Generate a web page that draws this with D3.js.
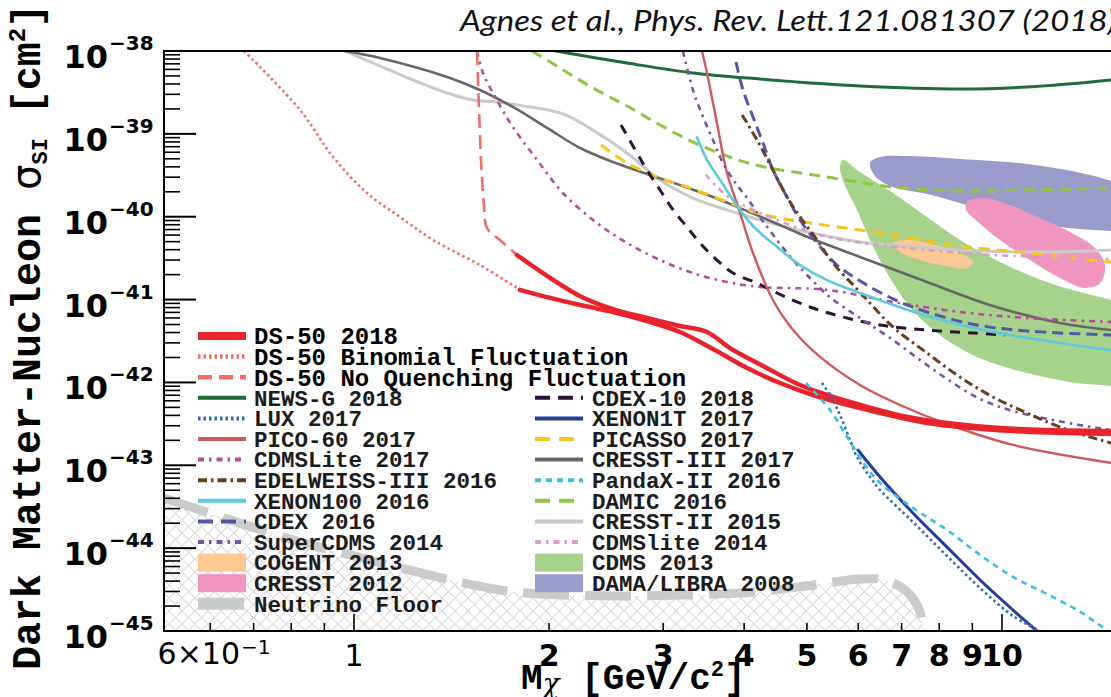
<!DOCTYPE html>
<html>
<head>
<meta charset="utf-8">
<script src="https://cdn.jsdelivr.net/npm/d3@7"></script>
<style>
  html, body { margin: 0; padding: 0; background: #fff; }
  svg { display: block; }
</style>
</head>
<body>
<svg id="chart" width="1111" height="697"></svg>
<script>
// Spin-independent WIMP-nucleon exclusion limits.
// Every point is [mass in GeV/c^2, cross section in cm^2].

const ds50Upper = [[1.7839,3.45e-41],[1.9859,1.93e-41],[2.2335,1.10e-41],[2.5100,7.69e-42],[2.8314,6.0e-42],[3.1841,4.80e-42],[3.5059,4.06e-42],[3.8030,2.60e-42],[4.2780,1.58e-42],[4.8790,9.31e-43],[5.8265,5.81e-43],[7.2864,3.72e-43],[9.9289,2.82e-43],[14.731,2.59e-43],[20,2.52e-43]];
const ds50Lower = [[1.8033,1.31e-41],[1.9859,1.07e-41],[2.2335,8.6e-42],[2.5100,7.08e-42],[2.8314,5.51e-42],[3.1841,4.06e-42],[3.5810,2.53e-42],[4.0431,1.49e-42],[4.5439,9.84e-43],[5.1078,7.05e-43],[6.0368,4.91e-43],[7.6598,3.24e-43],[10.399,2.59e-43],[14.731,2.39e-43],[20,2.32e-43]];
const ds50Binomial = [[0.6767,1e-38],[0.8255,1.94e-39],[0.9284,5.26e-40],[1.0474,1.93e-40],[1.1779,9.9e-41],[1.3245,5.24e-41],[1.5645,2.61e-41],[1.8033,1.31e-41]];
const ds50NoQuenching = [[1.5481,1e-38],[1.5595,1.94e-39],[1.5703,4.84e-40],[1.5867,1.38e-40],[1.6040,7.31e-41],[1.6797,5.24e-41],[1.7839,3.45e-41]];
const newsG2018 = [[2.0499,1e-38],[2.6387,7.16e-39],[3.3351,5.43e-39],[4.2329,4.59e-39],[6.0368,3.78e-39],[8.6145,3.48e-39],[10.927,3.68e-39],[14.731,4.47e-39],[20,5.90e-39]];
const lux2017 = [[5.2752,9.84e-43],[5.4262,7.05e-43],[5.6234,4.05e-43],[5.8265,2.02e-43],[5.9718,1.26e-43],[6.2562,7.22e-44],[6.4838,5.03e-44],[7.2864,2.07e-44],[8.2246,8.04e-45],[9.2521,3.30e-45],[10.399,1.52e-45],[11.443,1.0e-45]];
const pico60_2017 = [[3.4435,1e-38],[3.5059,5.43e-39],[3.6317,1.35e-39],[3.7637,3.37e-40],[3.9429,1.11e-40],[4.1279,3.65e-41],[4.4313,9.89e-42],[4.7604,4.29e-42],[5.2389,2.03e-42],[6.0368,9.31e-43],[6.9586,5.34e-43],[8.2246,3.15e-43],[10.399,1.76e-43],[14.731,1.07e-43],[20,7.64e-44]];
const cdmsLite2017 = [[1.5481,1e-38],[1.5816,5.43e-39],[1.6614,2.56e-39],[1.7586,1.21e-39],[1.9167,4.84e-40],[2.1014,1.93e-40],[2.3703,8.40e-41],[2.6387,4.82e-41],[2.9667,3.00e-41],[3.3351,2.09e-41],[3.7637,1.63e-41],[4.2329,1.42e-41],[5.3703,1.31e-41],[6.7880,9.35e-42],[8.6145,7.08e-42],[10.927,6.0e-42],[14.731,5.36e-42],[20,4.80e-42]];
const edelweiss2016 = [[3.9712,1.69e-39],[4.1882,8.43e-40],[4.4313,3.66e-40],[4.6586,1.73e-40],[4.8790,9.92e-41],[5.1836,5.24e-41],[5.4848,2.76e-41],[6.0368,1.23e-41],[6.7880,4.67e-42],[7.6598,2.27e-42],[8.6145,1.16e-42],[9.6852,6.67e-43],[10.927,4.28e-43],[12.288,2.90e-43],[14.731,1.86e-43],[20,1.10e-43]];
const xenon100_2016 = [[3.3822,9.17e-40],[3.5059,4.84e-40],[3.6721,2.77e-40],[3.8996,1.35e-40],[4.1279,7.73e-41],[4.4949,4.31e-41],[4.8790,2.61e-41],[5.3703,1.72e-41],[6.0368,1.20e-41],[7.6598,6.33e-42],[9.6852,4.06e-42],[12.288,2.99e-42],[14.731,2.46e-42],[20,2.03e-42]];
const cdex2016 = [[3.8861,7.37e-39],[3.9840,3.38e-39],[4.1279,1.60e-39],[4.2780,7.76e-40],[4.4313,3.66e-40],[4.6586,1.73e-40],[4.8790,9.13e-41],[5.1836,4.82e-41],[5.5638,2.61e-41],[6.0368,1.68e-41],[6.7880,1.02e-41],[7.6598,7.08e-42],[9.1505,4.93e-42],[10.927,4.18e-42],[14.731,3.74e-42],[20,3.54e-42]];
const superCdms2014 = [[3.2180,1e-38],[3.3351,3.38e-39],[3.4562,1.60e-39],[3.5810,8.43e-40],[3.7104,4.45e-40],[3.8996,2.41e-40],[4.0431,1.68e-40],[4.2329,9.92e-41],[4.4949,5.24e-41],[4.7604,3.00e-41],[5.0018,1.98e-41],[5.4262,1.07e-41],[6.0368,6.0e-42],[6.7880,3.25e-42],[7.4699,1.87e-42],[8.2246,1.10e-42],[9.2521,6.31e-43],[10.399,4.52e-43],[12.422,3.33e-43],[14.731,2.67e-43],[20,2.02e-43]];
const cdex10_2018 = [[2.5823,1.28e-39],[2.7334,5.87e-40],[2.8314,3.66e-40],[2.9667,2.10e-40],[3.1072,1.21e-40],[3.2637,7.52e-41],[3.4198,4.82e-41],[3.6317,3.00e-41],[3.8452,2.09e-41],[4.1882,1.58e-41],[4.4949,1.20e-41],[5.0552,8.13e-42],[5.6833,6.16e-42],[6.4838,4.93e-42],[7.6598,4.29e-42],[9.0229,3.95e-42],[10.107,3.74e-42]];
const xenon1t2017 = [[5.9938,1.53e-43],[6.4838,7.22e-44],[7.2864,2.66e-44],[8.2246,1.03e-44],[9.2521,4.13e-45],[10.399,1.79e-45],[11.319,1.0e-45]];
const picasso2017 = [[2.4053,7.34e-40],[2.6387,4.45e-40],[2.9667,2.93e-40],[3.3351,2.16e-40],[3.7637,1.51e-40],[4.2329,1.08e-40],[5.0552,8.40e-41],[6.0368,6.91e-41],[7.2111,5.53e-41],[8.6145,4.43e-41],[10.927,3.65e-41],[14.731,2.84e-41],[20,2.40e-41]];
const cresst3_2017 = [[0.9687,1e-38],[1.0970,8.23e-39],[1.3922,4.86e-39],[1.5645,3.38e-39],[1.7586,2.11e-39],[1.9859,1.18e-39],[2.2335,6.75e-40],[2.5100,4.57e-40],[2.8314,3.28e-40],[3.1841,2.41e-40],[3.5810,1.73e-40],[4.0431,1.17e-40],[4.5439,7.95e-41],[5.0552,5.53e-41],[6.0368,3.27e-41],[7.6598,1.63e-41],[9.6852,8.37e-42],[12.288,5.22e-42],[14.731,4.29e-42],[20,3.74e-42]];
const pandaX2016 = [[4.9846,9.84e-43],[5.4262,4.65e-43],[5.7650,2.20e-43],[6.1448,1.01e-43],[6.4838,6.11e-44],[7.2864,3.05e-44],[8.2246,1.66e-44],[9.2521,8.27e-45],[10.399,4.49e-45],[11.733,2.80e-45],[13.200,1.70e-45],[14.575,1.0e-45]];
const damic2016 = [[1.8832,1e-38],[2.0790,6.23e-39],[2.3370,3.58e-39],[2.6387,2.17e-39],[2.9667,1.28e-39],[3.3351,7.97e-40],[3.7637,5.40e-40],[4.2329,4.09e-40],[5.3703,3.02e-40],[6.7880,2.28e-40],[8.6145,2.04e-40],[10.927,2.10e-40],[14.731,2.22e-40],[20,2.35e-40]];
const cresst2_2015 = [[0.9687,1e-38],[1.0970,6.59e-39],[1.2334,4.47e-39],[1.3922,3.11e-39],[1.5257,2.56e-39],[1.6614,2.42e-39],[1.8680,2.11e-39],[2.1014,1.74e-39],[2.3370,1.11e-39],[2.6387,5.87e-40],[2.9667,2.77e-40],[3.3351,1.68e-40],[3.7637,1.21e-40],[4.2329,9.13e-41],[4.7604,7.11e-41],[5.3703,5.85e-41],[6.0368,4.95e-41],[8.6145,3.97e-41],[12.288,3.75e-41],[14.731,3.97e-41],[20,4.43e-41]];
const cdmsLite2014 = [[3.4930,3.19e-40],[3.7637,1.78e-40],[4.0431,1.31e-40],[4.4949,9.13e-41],[5.0552,6.54e-41],[5.6833,5.24e-41],[7.6598,3.97e-41],[9.6852,3.45e-41],[14.731,3.09e-41],[20,2.84e-41]];
const neutrinoFloor = [[0.509,4.03e-44],[0.578,2.89e-44],[0.6735,1.96e-44],[0.8255,1.19e-44],[0.9859,8.27e-45],[1.1486,6.09e-45],[1.4066,4.13e-45],[1.6797,3.13e-45],[1.9367,2.80e-45],[2.5275,2.65e-45],[3.2412,2.72e-45],[4.1584,2.96e-45],[5.1078,3.59e-45],[6.0368,4.24e-45],[6.5998,4.13e-45],[7.0847,3.13e-45],[7.4201,1.95e-45],[7.5792,1.0e-45]];

// Signal-claim regions (closed contours)
const cogent2013 = [[6.7880,4.82e-41],[7.2111,5.24e-41],[7.8816,4.56e-41],[8.6145,3.65e-41],[9.0229,2.84e-41],[8.8641,2.40e-41],[8.1680,2.54e-41],[7.4699,3.00e-41],[6.9586,3.75e-41]];
const cresst2012 = [[8.8334,1.51e-40],[9.4133,1.68e-40],[10.287,1.38e-40],[11.443,9.65e-41],[12.731,6.54e-41],[13.912,4.19e-41],[14.418,2.61e-41],[14.171,1.58e-41],[13.424,1.38e-41],[12.288,1.82e-41],[11.041,3.00e-41],[9.9289,5.24e-41],[9.1843,8.63e-41],[8.8029,1.21e-40]];
const cdms2013 = [[5.6833,4.84e-40],[6.0368,3.46e-40],[6.7880,1.93e-40],[7.6598,9.92e-41],[8.6145,5.24e-41],[9.9289,2.84e-41],[11.858,1.58e-41],[14.731,9.89e-42],[20,5.67e-42],[20,6.14e-43],[14.731,9.06e-43],[13.052,9.84e-43],[10.927,1.30e-42],[9.1505,2.03e-42],[7.9399,3.95e-42],[7.2111,8.13e-42],[6.6456,2.09e-41],[6.2562,5.24e-41],[5.9718,1.21e-40],[5.7227,2.41e-40],[5.6234,3.87e-40]];
const damaLibra2008 = [[6.2562,4.45e-40],[6.4838,5.25e-40],[7.2111,5.40e-40],[8.6145,4.97e-40],[10.927,4.33e-40],[13.052,3.46e-40],[14.731,2.70e-40],[16.925,1.83e-40],[16.925,6.02e-41],[14.731,6.72e-41],[12.288,7.52e-41],[9.6852,1.11e-40],[8.6145,1.46e-40],[7.6598,1.88e-40],[6.7880,2.28e-40],[6.3697,3.10e-40]];

// Axis ticks and labels
const xTickValues = [0.6, 0.7, 0.8, 0.9, 1, 2, 3, 4, 5, 6, 7, 8, 9, 10, 20];
const xMajorTicks = [1, 10];
const xLabelValues = [0.6, 1, 2, 3, 4, 5, 6, 7, 8, 9, 10];
const xLabelTexts = ["6×10", "1", "2", "3", "4", "5", "6", "7", "8", "9", "10"];
const yDecadeExponents = [-38, -39, -40, -41, -42, -43, -44, -45];
const yMinorMultipliers = [2, 3, 4, 5, 6, 7, 8, 9];

// Legend entries
const legendLeft = ["DS-50 2018", "DS-50 Binomial Fluctuation", "DS-50 No Quenching Fluctuation", "NEWS-G 2018", "LUX 2017", "PICO-60 2017", "CDMSLite 2017", "EDELWEISS-III 2016", "XENON100 2016", "CDEX 2016", "SuperCDMS 2014", "COGENT 2013", "CRESST 2012", "Neutrino Floor"];
const legendRight = ["CDEX-10 2018", "XENON1T 2017", "PICASSO 2017", "CRESST-III 2017", "PandaX-II 2016", "DAMIC 2016", "CRESST-II 2015", "CDMSlite 2014", "CDMS 2013", "DAMA/LIBRA 2008"];

// Appearance of each experiment
const styles = {
  "DS-50 2018": { color: "#e8232b", width: 4.5, swatch: 8 },
  "DS-50 Binomial Fluctuation": { color: "#f26d66", width: 2.6, dash: "2.5,3", swatch: 4.5 },
  "DS-50 No Quenching Fluctuation": { color: "#f26d66", width: 2.6, dash: "14,7", swatch: 4.5 },
  "NEWS-G 2018": { color: "#1e6b3a", width: 3, swatch: 4 },
  "LUX 2017": { color: "#3568b8", width: 2.6, dash: "2.5,3", swatch: 4 },
  "PICO-60 2017": { color: "#cf5c5c", width: 2.4, swatch: 4 },
  "CDMSLite 2017": { color: "#b84ca2", width: 2.6, dash: "6,5,2.5,5", swatch: 4 },
  "EDELWEISS-III 2016": { color: "#6a3d1c", width: 3, dash: "9,4,2.5,4", swatch: 4 },
  "XENON100 2016": { color: "#5fc9de", width: 2.6, swatch: 4 },
  "CDEX 2016": { color: "#5558a8", width: 3, dash: "11,6", swatch: 4, swatchDash: "15,8" },
  "SuperCDMS 2014": { color: "#7b52a8", width: 2.6, dash: "6,5,2.5,5", swatch: 4 },
  "COGENT 2013": { fill: "#fcc893" },
  "CRESST 2012": { fill: "#f096be" },
  "Neutrino Floor": { color: "#cbcbcb", width: 9, dash: "46,16", swatch: 12 },
  "CDEX-10 2018": { color: "#2c1236", width: 3, dash: "10,8", swatch: 4, swatchDash: "15,8" },
  "XENON1T 2017": { color: "#253f94", width: 3, swatch: 4 },
  "PICASSO 2017": { color: "#f7c31d", width: 3, dash: "11,7", swatch: 4, swatchDash: "15,9" },
  "CRESST-III 2017": { color: "#676767", width: 2.6, swatch: 4 },
  "PandaX-II 2016": { color: "#3dbcee", width: 2.6, dash: "6,5", swatch: 4 },
  "DAMIC 2016": { color: "#8dc641", width: 3, dash: "11,7", swatch: 4, swatchDash: "15,9" },
  "CRESST-II 2015": { color: "#cacaca", width: 3, swatch: 4 },
  "CDMSlite 2014": { color: "#dc9ccb", width: 2.6, dash: "6,5,2.5,5", swatch: 4 },
  "CDMS 2013": { fill: "#a6d28b" },
  "DAMA/LIBRA 2008": { fill: "#9a9acb" }
};

const regionSeries = [
  ["DAMA/LIBRA 2008", damaLibra2008],
  ["CDMS 2013", cdms2013],
  ["CRESST 2012", cresst2012],
  ["COGENT 2013", cogent2013]
];
const lineSeries = [
  ["NEWS-G 2018", newsG2018],
  ["DAMIC 2016", damic2016],
  ["CRESST-II 2015", cresst2_2015],
  ["CRESST-III 2017", cresst3_2017],
  ["PICASSO 2017", picasso2017],
  ["CDMSlite 2014", cdmsLite2014],
  ["CDMSLite 2017", cdmsLite2017],
  ["CDEX-10 2018", cdex10_2018],
  ["PICO-60 2017", pico60_2017],
  ["SuperCDMS 2014", superCdms2014],
  ["CDEX 2016", cdex2016],
  ["EDELWEISS-III 2016", edelweiss2016],
  ["XENON100 2016", xenon100_2016],
  ["DS-50 Binomial Fluctuation", ds50Binomial],
  ["DS-50 No Quenching Fluctuation", ds50NoQuenching],
  ["DS-50 2018", ds50Upper],
  ["DS-50 2018", ds50Lower],
  ["XENON1T 2017", xenon1t2017],
  ["LUX 2017", lux2017],
  ["PandaX-II 2016", pandaX2016]
];

// ---------------------------------------------------------------
const W = 1111, H = 697;
const plotLeft = 164, plotTop = 51, plotBottom = 631;
const xAtOne = 354, pxPerDecade = 648;
const xMin = 0.509, xMax = 20;

const x = d3.scaleLog().domain([xMin, xMax])
  .range([xAtOne + pxPerDecade * Math.log10(xMin), xAtOne + pxPerDecade * Math.log10(xMax)]);
const y = d3.scaleLog().domain([1e-45, 1e-38]).range([plotBottom, plotTop]);

const svg = d3.select("#chart");
const defs = svg.append("defs");

defs.append("clipPath").attr("id", "plotClip")
  .append("rect").attr("x", plotLeft).attr("y", plotTop)
  .attr("width", W - plotLeft + 10).attr("height", plotBottom - plotTop);

const hatch = defs.append("pattern").attr("id", "hatch")
  .attr("patternUnits", "userSpaceOnUse").attr("width", 13).attr("height", 13);
hatch.append("path").attr("d", "M0,0L13,13M13,0L0,13M-1,12L1,14M12,-1L14,1")
  .attr("stroke", "#dadada").attr("stroke-width", 1.1).attr("fill", "none");

const plot = svg.append("g").attr("clip-path", "url(#plotClip)");

const line = d3.line().x(d => x(d[0])).y(d => y(d[1])).curve(d3.curveCatmullRom.alpha(0.5));
const closed = d3.line().x(d => x(d[0])).y(d => y(d[1])).curve(d3.curveCatmullRomClosed.alpha(0.5));

// Hatched zone below the neutrino floor
plot.append("path")
  .datum(neutrinoFloor)
  .attr("d", d3.area().x(d => x(d[0])).y0(plotBottom).y1(d => y(d[1])).curve(d3.curveCatmullRom.alpha(0.5)))
  .attr("fill", "url(#hatch)");

// Allowed regions
regionSeries.forEach(([name, data]) => {
  plot.append("path").datum(data).attr("d", closed)
    .attr("fill", styles[name].fill).attr("stroke", "none");
});

// Neutrino floor
plot.append("path").datum(neutrinoFloor).attr("d", line)
  .attr("fill", "none").attr("stroke", styles["Neutrino Floor"].color)
  .attr("stroke-width", styles["Neutrino Floor"].width)
  .attr("stroke-dasharray", styles["Neutrino Floor"].dash);

// Exclusion curves
lineSeries.forEach(([name, data]) => {
  const s = styles[name];
  plot.append("path").datum(data).attr("d", line)
    .attr("fill", "none").attr("stroke", s.color)
    .attr("stroke-width", s.width)
    .attr("stroke-dasharray", s.dash || null)
    .attr("stroke-linecap", s.dash ? "butt" : "round")
    .attr("stroke-linejoin", "round");
});

// Frame
const axisG = svg.append("g").attr("stroke", "#000").attr("fill", "none");
axisG.append("path").attr("d", `M${plotLeft},${plotTop}H${W}M${plotLeft},${plotTop - 1}V${plotBottom + 1}M${plotLeft},${plotBottom}H${W}`)
  .attr("stroke-width", 2);

// Y ticks (inside the frame)
yDecadeExponents.forEach(e => {
  axisG.append("line").attr("x1", plotLeft).attr("x2", plotLeft + 32)
    .attr("y1", y(Math.pow(10, e))).attr("y2", y(Math.pow(10, e))).attr("stroke-width", 2);
  if (e > -45) {
    yMinorMultipliers.forEach(m => {
      const v = m * Math.pow(10, e - 1);
      axisG.append("line").attr("x1", plotLeft).attr("x2", plotLeft + 16)
        .attr("y1", y(v)).attr("y2", y(v)).attr("stroke-width", 1.6);
    });
  }
});

// X ticks
xTickValues.forEach(v => {
  const len = xMajorTicks.includes(v) ? 17 : 8;
  axisG.append("line").attr("x1", x(v)).attr("x2", x(v))
    .attr("y1", plotBottom).attr("y2", plotBottom - len).attr("stroke-width", 1.6);
});

// Y tick labels: 10^e
const yLab = svg.append("g").attr("font-family", "DejaVu Sans, sans-serif").attr("font-weight", "bold").attr("fill", "#000");
yDecadeExponents.forEach(e => {
  const ty = y(Math.pow(10, e));
  yLab.append("text").attr("x", 108).attr("y", ty + 17).attr("text-anchor", "end")
    .attr("font-size", 32).text("10");
  yLab.append("text").attr("x", 109).attr("y", ty - 1).attr("text-anchor", "start")
    .attr("font-size", 20).text("\u2212" + Math.abs(e));
});

// X tick labels
const xLab = svg.append("g").attr("font-family", "DejaVu Sans, sans-serif").attr("font-weight", "bold").attr("fill", "#000");
xLabelValues.forEach((v, i) => {
  if (v === 0.6) {
    xLab.append("text").attr("x", 240).attr("y", 664).attr("text-anchor", "end")
      .attr("font-size", 30).attr("font-weight", "normal").text(xLabelTexts[i]);
    xLab.append("text").attr("x", 241).attr("y", 654).attr("text-anchor", "start")
      .attr("font-size", 20).attr("font-weight", "normal").text("\u22121");
  } else {
    xLab.append("text").attr("x", x(v)).attr("y", 666).attr("text-anchor", "middle")
      .attr("font-size", 30).attr("font-weight", v === 1 ? "normal" : "bold").text(xLabelTexts[i]);
  }
});

// Axis titles
const yTitle = svg.append("text")
  .attr("transform", "translate(40,670) rotate(-90)")
  .attr("font-family", "Liberation Mono, monospace").attr("font-weight", "bold")
  .attr("font-size", 40).attr("fill", "#000");
yTitle.append("tspan").text("Dark Matter-Nucleon ");
yTitle.append("tspan").attr("font-family", "DejaVu Sans, sans-serif").attr("font-weight", "normal").text("σ");
yTitle.append("tspan").attr("font-size", 22).attr("dy", 7).text("SI");
yTitle.append("tspan").attr("dy", -7).text(" [cm");
yTitle.append("tspan").attr("font-size", 24).attr("dy", -15).text("2");
yTitle.append("tspan").attr("dy", 15).text("]");

const xTitle = svg.append("text")
  .attr("x", 521).attr("y", 689)
  .attr("font-family", "Liberation Mono, monospace").attr("font-weight", "bold")
  .attr("font-size", 36).attr("fill", "#000");
xTitle.append("tspan").text("M");
xTitle.append("tspan").attr("font-family", "DejaVu Serif, serif").attr("font-style", "italic")
  .attr("font-weight", "normal").attr("font-size", 28).attr("dy", 4).text("χ");
xTitle.append("tspan").attr("dy", -4).text(" [GeV/c");
xTitle.append("tspan").attr("font-size", 22).attr("dy", -13).text("2");
xTitle.append("tspan").attr("dy", 13).text("]");

// Citation
svg.append("text").attr("x", 460).attr("y", 31)
  .attr("font-family", "Lato, sans-serif").attr("font-style", "italic")
  .attr("font-size", 28).attr("fill", "#111")
  .attr("textLength", 656).attr("lengthAdjust", "spacingAndGlyphs")
  .text("Agnes et al., Phys. Rev. Lett.121.081307 (2018)");

// Legend
const rowY = i => 336 + i * 20.6;
function drawLegendItem(g, name, row, sx, tx) {
  const s = styles[name];
  const cy = rowY(row);
  if (s.fill) {
    g.append("rect").attr("x", sx).attr("y", cy - 9).attr("width", 48).attr("height", 18)
      .attr("fill", s.fill);
  } else {
    g.append("line").attr("x1", sx).attr("x2", sx + 48).attr("y1", cy).attr("y2", cy)
      .attr("stroke", s.color).attr("stroke-width", s.swatch)
      .attr("stroke-dasharray", s.swatchDash || s.dash || null);
  }
  const big = name.startsWith("DS-50");
  g.append("text").attr("x", tx).attr("y", cy).attr("dy", "0.35em")
    .attr("font-family", "Liberation Mono, monospace").attr("font-weight", "bold")
    .attr("font-size", big ? 24 : 22.5).attr("fill", big ? "#000" : "#1c1c1c")
    .text(name);
}
const legend = svg.append("g");
legendLeft.forEach((n, i) => drawLegendItem(legend, n, i, 198, 254));
legendRight.forEach((n, i) => drawLegendItem(legend, n, i + 3, 535, 592));
</script>
</body>
</html>
